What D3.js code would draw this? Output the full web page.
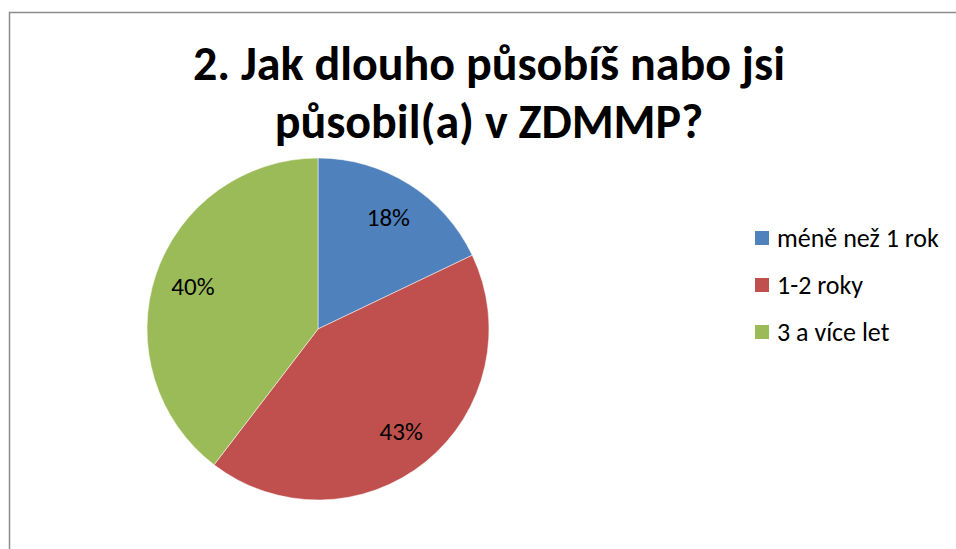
<!DOCTYPE html>
<html>
<head>
<meta charset="utf-8">
<script src="https://cdn.jsdelivr.net/npm/d3@7"></script>
<style>
  body { margin: 0; background: #fff; }
  svg { display: block; }
</style>
</head>
<body>
<div id="chart"></div>
<script>
// Data:
const categories = ['méně než 1 rok', '1-2 roky', '3 a více let'];
const values = [17.9, 42.5, 39.6];
const labels = ['18%', '43%', '40%'];
const colors = ['#4F81BD', '#C0504D', '#9BBB59'];
const titleLines = ['2. Jak dlouho působíš nabo jsi', 'působil(a) v ZDMMP?'];

// Canvas:
const svgWidth = 956;
const svgHeight = 549;
const font = 'Carlito, Lato, "Open Sans", sans-serif';

const svg = d3.select('#chart')
              .append('svg')
              .attr('width', svgWidth)
              .attr('height', svgHeight);

// chart border (right and bottom edges fall outside the picture)
svg.append('rect')
   .attr('x', 9.5)
   .attr('y', 12.5)
   .attr('width', 960)
   .attr('height', 560)
   .attr('fill', '#fff')
   .attr('stroke', '#8c8c8c')
   .attr('stroke-width', 1.5);

// title
svg.append('g')
   .selectAll('text')
   .data(titleLines)
   .join('text')
   .attr('x', 489)
   .attr('y', (d, i) => 80 + i * 58)
   .attr('text-anchor', 'middle')
   .attr('font-family', font)
   .attr('font-weight', 'bold')
   .attr('font-size', 48)
   .attr('fill', '#000')
   .text(d => d);

// pie
const cx = 318, cy = 329, radius = 171;
const pie = d3.pie().sort(null).value(d => d);
const arcs = pie(values);
const arc = d3.arc().innerRadius(0).outerRadius(radius);
const labelArc = d3.arc().innerRadius(132).outerRadius(132);

const pieGroup = svg.append('g')
                    .attr('transform', `translate(${cx}, ${cy})`);

pieGroup.selectAll('path')
        .data(arcs)
        .join('path')
        .attr('d', arc)
        .attr('fill', (d, i) => colors[i])
        .attr('stroke', '#fff')
        .attr('stroke-width', 0.5);

pieGroup.selectAll('text')
        .data(arcs)
        .join('text')
        .attr('transform', d => `translate(${labelArc.centroid(d)})`)
        .attr('text-anchor', 'middle')
        .attr('dominant-baseline', 'central')
        .attr('font-family', font)
        .attr('font-size', 25)
        .attr('fill', '#000')
        .text((d, i) => labels[i]);

// legend
const legend = svg.append('g')
                  .attr('transform', 'translate(755, 238)');

const items = legend.selectAll('g')
                    .data(categories)
                    .join('g')
                    .attr('transform', (d, i) => `translate(0, ${i * 47})`);

items.append('rect')
     .attr('x', 0)
     .attr('y', -7)
     .attr('width', 14)
     .attr('height', 14)
     .attr('fill', (d, i) => colors[i]);

items.append('text')
     .attr('x', 22)
     .attr('y', 0)
     .attr('dominant-baseline', 'central')
     .attr('font-family', font)
     .attr('font-size', 26)
     .attr('fill', '#000')
     .text(d => d);
</script>
</body>
</html>
